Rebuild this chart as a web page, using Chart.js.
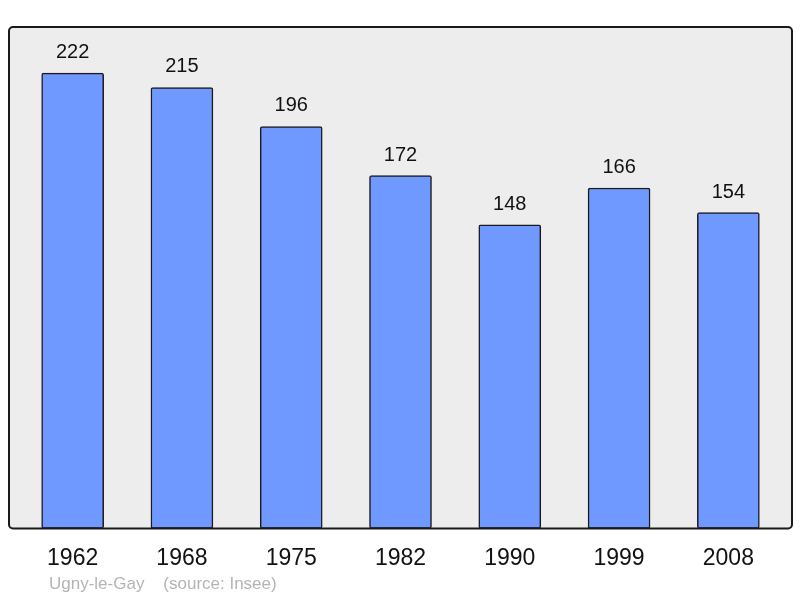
<!DOCTYPE html>
<html>
<head>
<meta charset="utf-8">
<script src="https://cdn.jsdelivr.net/npm/chart.js@4"></script>
<style>
  html, body { margin: 0; padding: 0; background: #fff; }
  #wrap { width: 800px; height: 598px; }
</style>
</head>
<body>
<div id="wrap"><canvas id="chart" width="800" height="598"></canvas></div>
<script>
const years = ['1962', '1968', '1975', '1982', '1990', '1999', '2008'];
const population = [222, 215, 196, 172, 148, 166, 154];
const placeName = 'Ugny-le-Gay';
const sourceText = '(source: Insee)';

// grey panel with rounded black frame behind the bars
const framePlugin = {
    id: 'frame',
    beforeDatasetsDraw(chart) {
        const { ctx, chartArea } = chart;
        ctx.save();
        ctx.fillStyle = '#ededed';
        ctx.beginPath();
        ctx.roundRect(chartArea.left - 9, chartArea.top, chartArea.width + 18, chartArea.height, 4);
        ctx.fill();
        ctx.restore();
    },
    afterDatasetsDraw(chart) {
        const { ctx, chartArea } = chart;
        ctx.save();
        ctx.strokeStyle = '#1a1a1a';
        ctx.lineWidth = 2;
        ctx.beginPath();
        ctx.roundRect(chartArea.left - 9, chartArea.top, chartArea.width + 18, chartArea.height, 4);
        ctx.stroke();

        // value labels over the bars
        const meta = chart.getDatasetMeta(0);
        ctx.fillStyle = '#111';
        ctx.font = '20px "Liberation Sans", Arial, sans-serif';
        ctx.textAlign = 'center';
        ctx.textBaseline = 'alphabetic';
        meta.data.forEach((bar, i) => {
            ctx.fillText(String(population[i]), bar.x, bar.y - 15);
        });

        // footer
        ctx.fillStyle = '#b4b4b4';
        ctx.font = '17px "Liberation Sans", Arial, sans-serif';
        ctx.textAlign = 'left';
        ctx.fillText(placeName + '    ' + sourceText, 49, 589);
        ctx.restore();
    }
};

new Chart(document.getElementById('chart'), {
    type: 'bar',
    data: {
        labels: years,
        datasets: [{
            data: population,
            backgroundColor: '#7099ff',
            borderColor: '#1a1a1a',
            borderWidth: 1.5,
            borderRadius: 2,
            borderSkipped: false,
            barThickness: 62
        }]
    },
    options: {
        responsive: false,
        animation: false,
        layout: { padding: { left: 18, right: 17, top: 27, bottom: 10 } },
        plugins: {
            legend: { display: false },
            tooltip: { enabled: false }
        },
        scales: {
            x: {
                grid: { display: false, drawTicks: false },
                border: { display: false },
                ticks: {
                    color: '#111',
                    padding: 16,
                    font: { family: '"Liberation Sans", Arial, sans-serif', size: 23 }
                }
            },
            y: {
                display: false,
                min: 0,
                max: 244.5
            }
        }
    },
    plugins: [framePlugin]
});
</script>
</body>
</html>
